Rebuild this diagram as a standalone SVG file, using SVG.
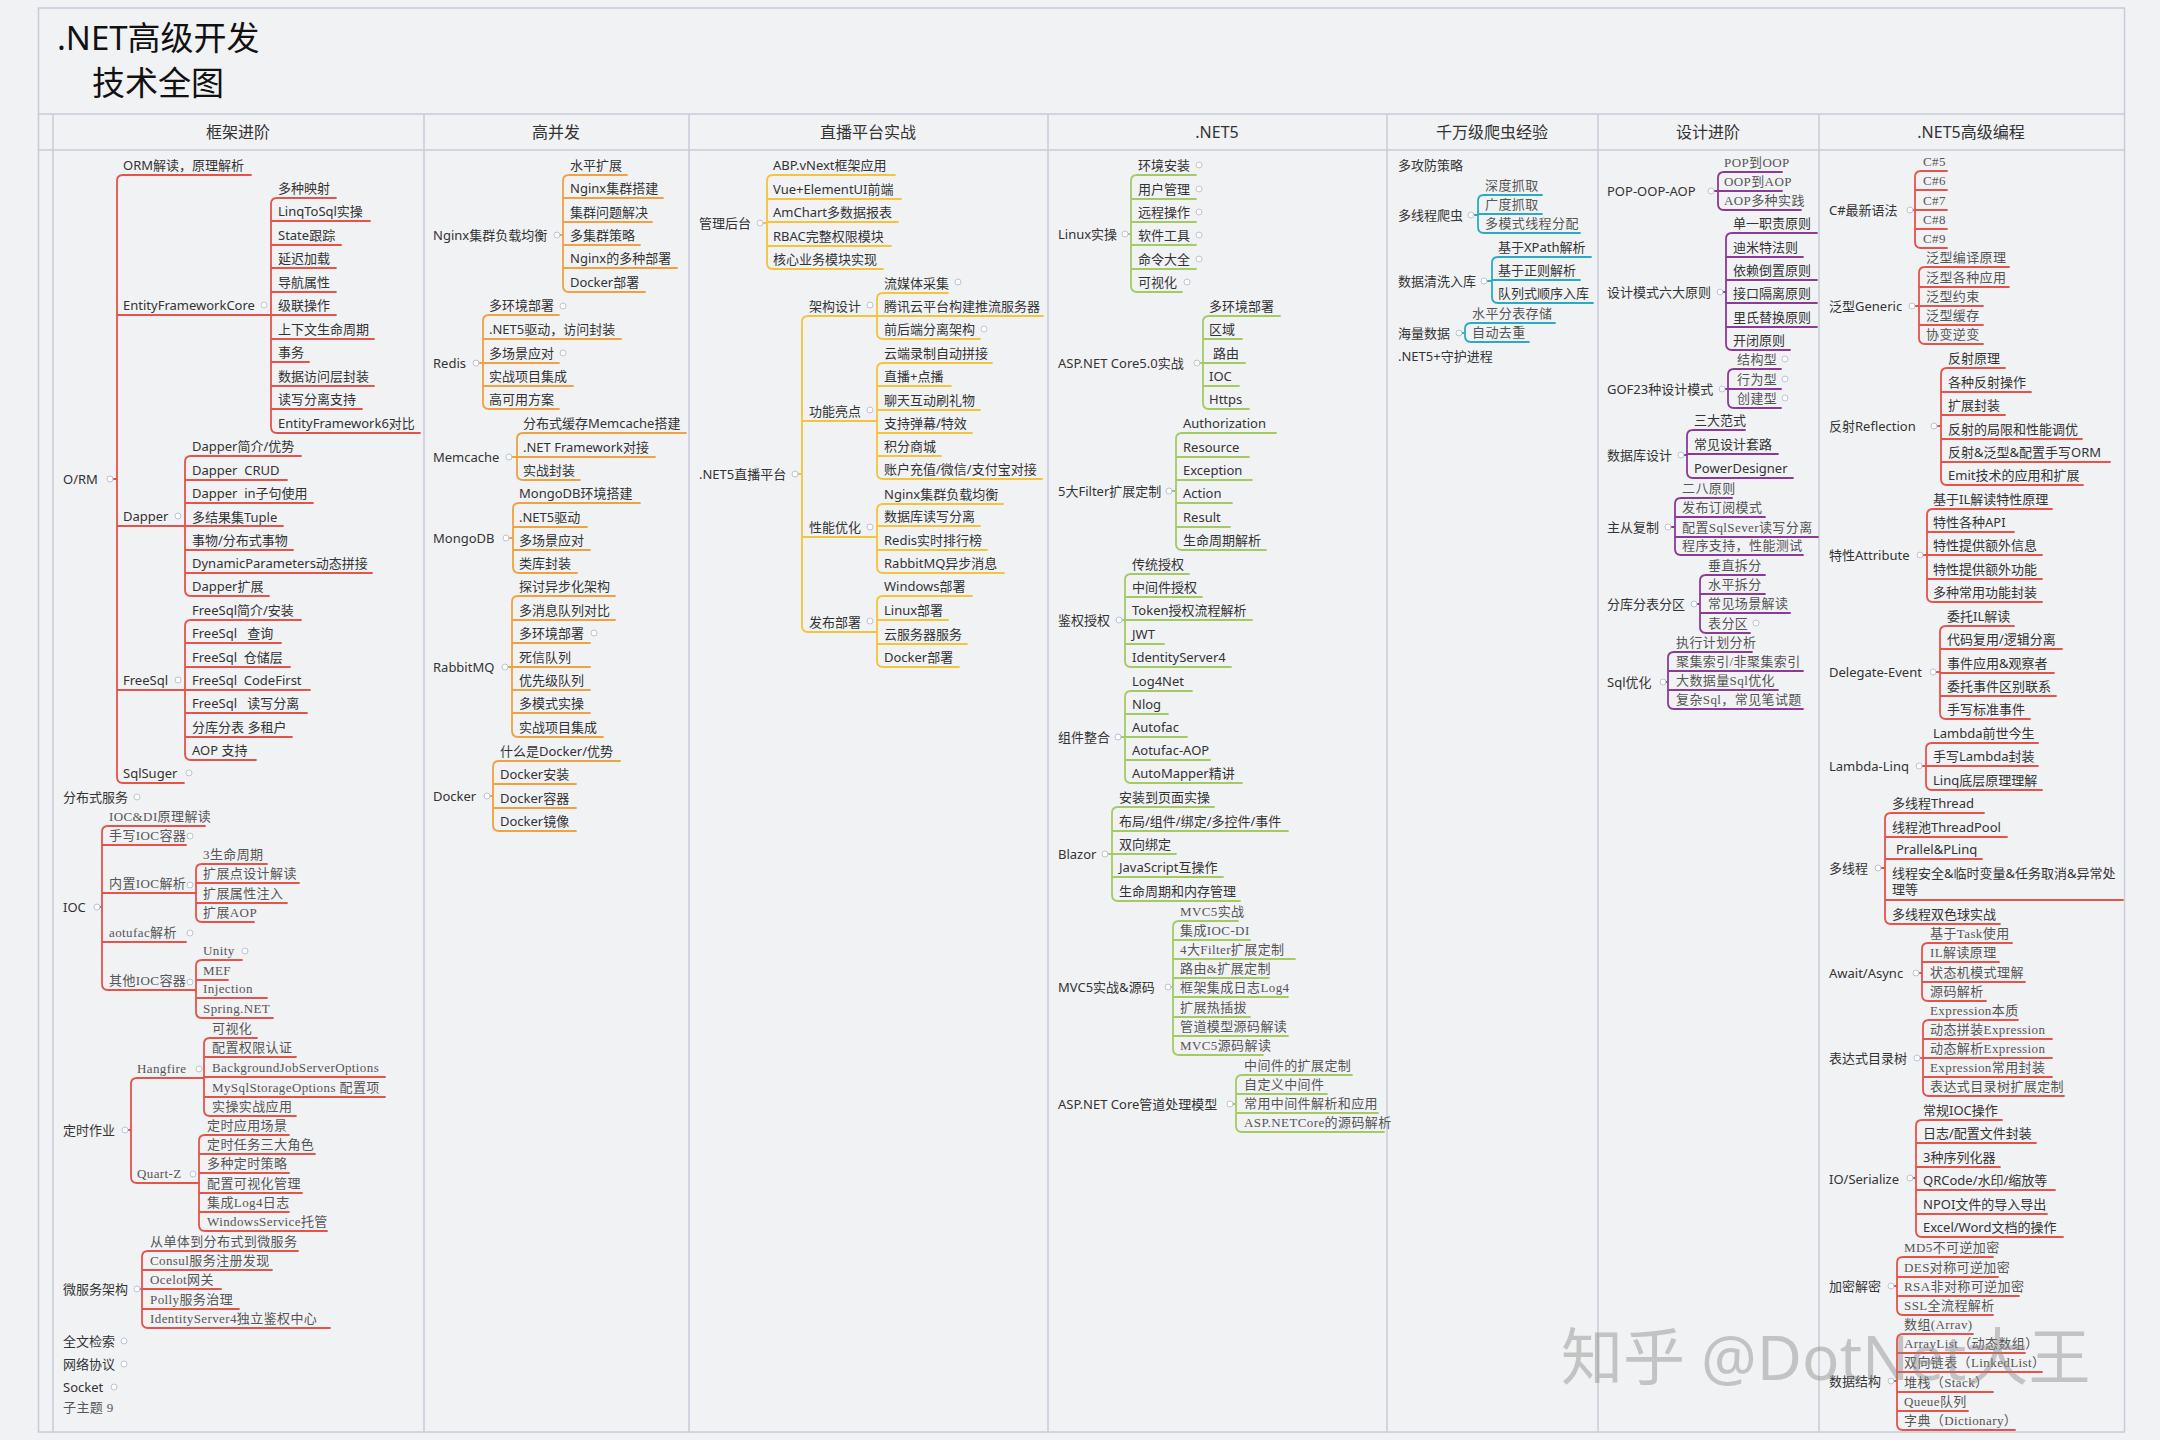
<svg xmlns="http://www.w3.org/2000/svg" width="2160" height="1440" viewBox="0 0 2160 1440">
<style>
text{font-family:"Noto Sans","Noto Sans CJK SC",sans-serif;font-size:13px;fill:#333}
text.s{font-family:"Liberation Serif","Noto Sans CJK SC",serif;fill:#555;letter-spacing:0.4px}
text.h{font-size:16px;text-anchor:middle;fill:#333}
text.ttl{font-size:33px;fill:#111}
text.wm{font-size:62px;fill:#8c8c8c;opacity:.45}
.fr{fill:none;stroke:#c8ccd8;stroke-width:1.5}
path{fill:none;stroke-width:1.8;stroke-linecap:round}
.l1 path,.l7 path{stroke:#e5534b}
.l2 path{stroke:#f2a13f}
.l3 path{stroke:#f4c43c}
.l4 path{stroke:#a3cb62}
.l5 path{stroke:#2aabc4}
.l6 path{stroke:#8b3a98}
circle{fill:#fff;stroke:#bcc4d4;stroke-width:1}
</style>
<rect width="2160" height="1440" fill="#f1f2f4"/>
<rect x="38.5" y="8" width="2086" height="1424" fill="#fff" class="fr"/>
<g id="frame" class="fr">
<path d="M38.5,114H2124.5M38.5,150H2124.5M53,114V1432M424,114V1432M689,114V1432M1048,114V1432M1387,114V1432M1598,114V1432M1819,114V1432" style="stroke:#c8ccd8;stroke-width:1.5"/>
</g>
<g id="title">
<text class="ttl" x="57" y="50">.NET高级开发</text>
<text class="ttl" x="92" y="95">技术全图</text>
</g>
<g id="headers">
<text class="h" x="238" y="138">框架进阶</text>
<text class="h" x="556" y="138">高并发</text>
<text class="h" x="868" y="138">直播平台实战</text>
<text class="h" x="1217" y="138">.NET5</text>
<text class="h" x="1492" y="138">千万级爬虫经验</text>
<text class="h" x="1708" y="138">设计进阶</text>
<text class="h" x="1971" y="138">.NET5高级编程</text>
</g>

<g id="connectors">
<g class="l1">
<path d="M113,479H117M123,175Q117,175 117,181V777Q117,783 123,783M123,175H251M117,315H271M117,526H185M117,690H185M123,783H184"/>
<path d="M277,198Q271,198 271,204V427Q271,433 277,433M277,198H336M271,221H370M271,245H341M271,268H336M271,292H336M271,315H336M271,339H374M271,362H309M271,386H374M271,409H362M277,433H420"/>
<path d="M191,456Q185,456 185,462V590Q185,596 191,596M191,456H301M185,480H287M185,503H313M185,526H283M185,550H293M185,573H372M191,596H269"/>
<path d="M191,620Q185,620 185,626V754Q185,760 191,760M191,620H301M185,643H281M185,667H290M185,690H310M185,713H307M185,737H292M191,760H256"/>
<path d="M100,907H102M108,826Q102,826 102,832V984Q102,990 108,990M108,826H205M102,845H186M102,893H196M102,942H186M108,990H196"/>
<path d="M202,864Q196,864 196,870V916Q196,922 202,922M202,864H267M196,883H299M196,903H287M202,922H254"/>
<path d="M202,960Q196,960 196,966V1012Q196,1018 202,1018M202,960H242M196,980H228M196,998H267M202,1018H273"/>
<path d="M128,1130H131M137,1078Q131,1078 131,1084V1177Q131,1183 137,1183M137,1078H204M137,1183H199"/>
<path d="M210,1038Q204,1038 204,1044V1110Q204,1116 210,1116M210,1038H257M204,1057H296M204,1077H385M204,1097H385M210,1116H296"/>
<path d="M205,1135Q199,1135 199,1141V1225Q199,1231 205,1231M205,1135H289M199,1154H315M199,1173H289M199,1193H302M199,1212H289M205,1231H327"/>
<path d="M140,1289H142M148,1251Q142,1251 142,1257V1322Q142,1328 148,1328M148,1251H298M142,1270H272M142,1289H221M142,1309H239M148,1328H330"/>
</g>
<g class="l2">
<path d="M560,235H563M569,175Q563,175 563,181V286Q563,292 569,292M569,175H627M563,198H663M563,222H652M563,245H640M563,268H677M569,292H645"/>
<path d="M479,363H483M489,315Q483,315 483,321V403Q483,409 489,409M489,315H559M483,339H621M483,363H559M483,386H573M489,409H559"/>
<path d="M512,457H517M523,433Q517,433 517,439V474Q517,480 523,480M523,433H686M517,457H655M523,480H580"/>
<path d="M509,538H513M519,503Q513,503 513,509V567Q513,573 519,573M519,503H640M513,527H587M513,550H590M519,573H577"/>
<path d="M508,667H512M518,596Q512,596 512,602V731Q512,737 518,737M518,596H615M512,620H615M512,643H590M512,667H590M512,690H590M512,713H590M518,737H603"/>
<path d="M490,796H493M499,761Q493,761 493,767V825Q493,831 499,831M499,761H620M493,784H576M493,808H576M499,831H576"/>
</g>
<g class="l3">
<path d="M763,223H767M773,175Q767,175 767,181V263Q767,269 773,269M773,175H895M767,199H901M767,222H898M767,246H891M773,269H883"/>
<path d="M798,474H802M808,316Q802,316 802,322V626Q802,632 808,632M808,316H877M802,421H877M802,537H877M808,632H877"/>
<path d="M883,293Q877,293 877,299V333Q877,339 883,339M883,293H948M877,316H1043M883,339H980"/>
<path d="M883,363Q877,363 877,369V473Q877,479 883,479M883,363H992M877,386H951M877,410H980M877,433H972M877,456H941M883,479H1042"/>
<path d="M883,504Q877,504 877,510V567Q877,573 883,573M883,504H1003M877,526H980M877,550H987M883,573H1004"/>
<path d="M883,596Q877,596 877,602V661Q877,667 883,667M883,596H972M877,620H948M877,644H967M883,667H959"/>
</g>
<g class="l4">
<path d="M1128,234H1131M1137,175Q1131,175 1131,181V286Q1131,292 1137,292M1137,175H1196M1131,199H1196M1131,222H1196M1131,245H1196M1131,269H1196M1137,292H1182"/>
<path d="M1200,363H1203M1209,316Q1203,316 1203,322V403Q1203,409 1209,409M1209,316H1280M1203,339H1242M1203,363H1245M1203,386H1239M1209,409H1249"/>
<path d="M1172,491H1176M1182,433Q1176,433 1176,439V544Q1176,550 1182,550M1182,433H1276M1176,457H1249M1176,480H1252M1176,503H1232M1176,527H1230M1182,550H1266"/>
<path d="M1122,620H1125M1131,574Q1125,574 1125,580V661Q1125,667 1131,667M1131,574H1189M1125,597H1202M1125,620H1252M1125,644H1164M1131,667H1231"/>
<path d="M1121,737H1125M1131,691Q1125,691 1125,697V777Q1125,783 1131,783M1131,691H1192M1125,714H1168M1125,737H1187M1125,760H1210M1131,783H1242"/>
<path d="M1108,854H1112M1118,807Q1112,807 1112,813V895Q1112,901 1118,901M1118,807H1214M1112,831H1288M1112,854H1176M1112,877H1223M1118,901H1240"/>
<path d="M1171,987H1173M1179,921Q1173,921 1173,927V1049Q1173,1055 1179,1055M1179,921H1238M1173,940H1250M1173,959H1295M1173,978H1269M1173,997H1288M1173,1017H1250M1173,1036H1288M1179,1055H1263"/>
<path d="M1233,1104H1236M1242,1075Q1236,1075 1236,1081V1126Q1236,1132 1242,1132M1242,1075H1352M1236,1094H1327M1236,1113H1378M1242,1132H1384"/>
</g>
<g class="l5">
<path d="M1474,215H1478M1484,195Q1478,195 1478,201V227Q1478,233 1484,233M1484,195H1542M1478,214H1542M1484,233H1580"/>
<path d="M1487,281H1492M1498,257Q1492,257 1492,263V297Q1492,303 1498,303M1498,257H1591M1492,280H1580M1498,303H1593"/>
<path d="M1462,333H1465M1471,323Q1465,323 1465,329V336Q1465,342 1471,342M1471,323H1555M1471,342H1529"/>
</g>
<g class="l6">
<path d="M1714,191H1718M1724,172Q1718,172 1718,178V204Q1718,210 1724,210M1724,172H1782M1718,191H1782M1724,210H1801"/>
<path d="M1723,292H1726M1732,233Q1726,233 1726,239V344Q1726,350 1732,350M1732,233H1817M1726,257H1803M1726,280H1817M1726,303H1817M1726,327H1817M1732,350H1790"/>
<path d="M1725,389H1728M1734,369Q1728,369 1728,375V402Q1728,408 1734,408M1734,369H1781M1728,389H1781M1734,408H1781"/>
<path d="M1684,455H1687M1693,430Q1687,430 1687,436V472Q1687,478 1693,478M1693,430H1745M1687,454H1778M1693,478H1793"/>
<path d="M1671,527H1675M1681,498Q1675,498 1675,504V549Q1675,555 1681,555M1681,498H1732M1675,517H1765M1675,537H1818M1681,555H1803"/>
<path d="M1697,604H1700M1706,575Q1700,575 1700,581V627Q1700,633 1706,633M1706,575H1765M1700,594H1765M1700,613H1790M1706,633H1750"/>
<path d="M1666,682H1668M1674,652Q1668,652 1668,658V703Q1668,709 1674,709M1674,652H1752M1668,671H1803M1668,690H1778M1674,709H1803"/>
</g>
<g class="l7">
<path d="M1913,210H1915M1921,171Q1915,171 1915,177V242Q1915,248 1921,248M1921,171H1947M1915,190H1947M1915,210H1947M1915,229H1947M1921,248H1947"/>
<path d="M1915,306H1919M1925,267Q1919,267 1919,273V338Q1919,344 1925,344M1925,267H2009M1919,287H2009M1919,306H1983M1919,325H1983M1925,344H1983"/>
<path d="M1937,426H1941M1947,368Q1941,368 1941,374V479Q1941,485 1947,485M1947,368H2005M1941,392H2031M1941,415H2005M1941,439H2082M1941,462H2110M1947,485H2083"/>
<path d="M1923,555H1927M1933,509Q1927,509 1927,515V596Q1927,602 1933,602M1933,509H2052M1927,532H2014M1927,555H2042M1927,579H2042M1933,602H2042"/>
<path d="M1936,672H1940M1946,626Q1940,626 1940,632V713Q1940,719 1946,719M1946,626H2014M1940,649H2062M1940,673H2054M1940,696H2056M1946,719H2030"/>
<path d="M1922,766H1926M1932,743Q1926,743 1926,749V784Q1926,790 1932,790M1932,743H2038M1926,766H2038M1932,790H2042"/>
<path d="M1881,868H1885M1891,813Q1885,813 1885,819V918Q1885,924 1891,924M1891,813H1984M1885,837H2007M1885,859H1982M1885,900H2123M1891,924H2000"/>
<path d="M1919,973H1922M1928,943Q1922,943 1922,949V995Q1922,1001 1928,1001M1928,943H2012M1922,962H1999M1922,982H2025M1928,1001H1986"/>
<path d="M1920,1058H1923M1929,1020Q1923,1020 1923,1026V1090Q1923,1096 1929,1096M1929,1020H2018M1923,1039H2052M1923,1058H2052M1923,1077H2052M1929,1096H2064"/>
<path d="M1913,1178H1916M1922,1120Q1916,1120 1916,1126V1231Q1916,1237 1922,1237M1922,1120H2002M1916,1143H2036M1916,1167H2000M1916,1190H2055M1916,1214H2047M1922,1237H2063"/>
<path d="M1894,1286H1897M1903,1257Q1897,1257 1897,1263V1309Q1897,1315 1903,1315M1903,1257H1993M1897,1277H1998M1897,1296H2019M1903,1315H1993"/>
<path d="M1894,1381H1897M1903,1334Q1897,1334 1897,1340V1424Q1897,1430 1903,1430M1903,1334H1973M1897,1353H2025M1897,1372H2042M1897,1392H1993M1897,1411H1968M1903,1430H2015"/>
</g>
<g id="markers">
<circle cx="110" cy="479" r="3"/><circle cx="264" cy="305" r="3"/><circle cx="178" cy="516" r="3"/><circle cx="178" cy="680" r="3"/><circle cx="189" cy="773" r="3"/><circle cx="137" cy="797" r="3"/><circle cx="97" cy="907" r="3"/><circle cx="190" cy="836" r="3"/><circle cx="190" cy="885" r="3"/><circle cx="190" cy="933" r="3"/><circle cx="190" cy="982" r="3"/><circle cx="245" cy="951" r="3"/><circle cx="125" cy="1130" r="3"/><circle cx="199" cy="1069" r="3"/><circle cx="193" cy="1174" r="3"/><circle cx="137" cy="1289" r="3"/><circle cx="124" cy="1341" r="3"/><circle cx="124" cy="1364" r="3"/><circle cx="114" cy="1387" r="3"/>
<circle cx="557" cy="235" r="3"/><circle cx="476" cy="363" r="3"/><circle cx="563" cy="306" r="3"/><circle cx="563" cy="353" r="3"/><circle cx="509" cy="457" r="3"/><circle cx="506" cy="538" r="3"/><circle cx="505" cy="667" r="3"/><circle cx="594" cy="633" r="3"/><circle cx="487" cy="796" r="3"/>
<circle cx="760" cy="223" r="3"/><circle cx="795" cy="474" r="3"/><circle cx="870" cy="305" r="3"/><circle cx="870" cy="410" r="3"/><circle cx="870" cy="527" r="3"/><circle cx="870" cy="621" r="3"/><circle cx="958" cy="282" r="3"/><circle cx="984" cy="329" r="3"/>
<circle cx="1125" cy="234" r="3"/><circle cx="1199" cy="165" r="3"/><circle cx="1199" cy="189" r="3"/><circle cx="1199" cy="212" r="3"/><circle cx="1199" cy="235" r="3"/><circle cx="1199" cy="259" r="3"/><circle cx="1187" cy="282" r="3"/><circle cx="1197" cy="363" r="3"/><circle cx="1169" cy="491" r="3"/><circle cx="1119" cy="620" r="3"/><circle cx="1118" cy="737" r="3"/><circle cx="1105" cy="854" r="3"/><circle cx="1168" cy="987" r="3"/><circle cx="1230" cy="1104" r="3"/>
<circle cx="1471" cy="215" r="3"/><circle cx="1484" cy="281" r="3"/><circle cx="1459" cy="333" r="3"/>
<circle cx="1711" cy="191" r="3"/><circle cx="1720" cy="292" r="3"/><circle cx="1722" cy="389" r="3"/><circle cx="1785" cy="359" r="3"/><circle cx="1785" cy="379" r="3"/><circle cx="1785" cy="398" r="3"/><circle cx="1681" cy="455" r="3"/><circle cx="1668" cy="527" r="3"/><circle cx="1694" cy="604" r="3"/><circle cx="1756" cy="623" r="3"/><circle cx="1663" cy="682" r="3"/>
<circle cx="1910" cy="210" r="3"/><circle cx="1912" cy="306" r="3"/><circle cx="1934" cy="426" r="3"/><circle cx="1920" cy="555" r="3"/><circle cx="1933" cy="672" r="3"/><circle cx="1919" cy="766" r="3"/><circle cx="1878" cy="868" r="3"/><circle cx="1916" cy="973" r="3"/><circle cx="1917" cy="1058" r="3"/><circle cx="1910" cy="1178" r="3"/><circle cx="1891" cy="1286" r="3"/><circle cx="1891" cy="1381" r="3"/>
</g>
</g>

<g id="col1">
<g id="n-orm"><text x="63" y="484">O/RM</text>
<text x="123" y="170">ORM解读，原理解析</text></g>
<g id="n-efcore"><text x="123" y="310">EntityFrameworkCore</text>
<text x="278" y="193">多种映射</text><text x="278" y="216">LinqToSql实操</text><text x="278" y="240">State跟踪</text><text x="278" y="263">延迟加载</text><text x="278" y="287">导航属性</text><text x="278" y="310">级联操作</text><text x="278" y="334">上下文生命周期</text><text x="278" y="357">事务</text><text x="278" y="381">数据访问层封装</text><text x="278" y="404">读写分离支持</text><text x="278" y="428">EntityFramework6对比</text></g>
<g id="n-dapper"><text x="123" y="521">Dapper</text>
<text x="192" y="451">Dapper简介/优势</text><text x="192" y="475">Dapper&#160; CRUD</text><text x="192" y="498">Dapper&#160; in子句使用</text><text x="192" y="522">多结果集Tuple</text><text x="192" y="545">事物/分布式事物</text><text x="192" y="568">DynamicParameters动态拼接</text><text x="192" y="591">Dapper扩展</text></g>
<g id="n-freesql"><text x="123" y="685">FreeSql</text>
<text x="192" y="615">FreeSql简介/安装</text><text x="192" y="638">FreeSql&#160;&#160; 查询</text><text x="192" y="662">FreeSql&#160; 仓储层</text><text x="192" y="685">FreeSql&#160; CodeFirst</text><text x="192" y="708">FreeSql&#160;&#160; 读写分离</text><text x="192" y="732">分库分表 多租户</text><text x="192" y="755">AOP 支持</text></g>
<g id="n-sqlsuger"><text x="123" y="778">SqlSuger</text></g>
<g id="n-dist"><text x="63" y="802">分布式服务</text></g>
<g id="n-ioc"><text x="63" y="912">IOC</text>
<text class="s" x="109" y="821">IOC&amp;DI原理解读</text><text class="s" x="109" y="840">手写IOC容器</text><text class="s" x="109" y="888">内置IOC解析</text><text class="s" x="109" y="937">aotufac解析</text><text class="s" x="109" y="985">其他IOC容器</text>
<text class="s" x="203" y="859">3生命周期</text><text class="s" x="203" y="878">扩展点设计解读</text><text class="s" x="203" y="898">扩展属性注入</text><text class="s" x="203" y="917">扩展AOP</text>
<text class="s" x="203" y="955">Unity</text><text class="s" x="203" y="975">MEF</text><text class="s" x="203" y="993">Injection</text><text class="s" x="203" y="1013">Spring.NET</text></g>
<g id="n-timer"><text x="63" y="1135">定时作业</text>
<text class="s" x="137" y="1073">Hangfire</text><text class="s" x="137" y="1178">Quart-Z</text>
<text class="s" x="212" y="1033">可视化</text><text class="s" x="212" y="1052">配置权限认证</text><text class="s" x="212" y="1072">BackgroundJobServerOptions</text><text class="s" x="212" y="1092">MySqlStorageOptions 配置项</text><text class="s" x="212" y="1111">实操实战应用</text>
<text class="s" x="207" y="1130">定时应用场景</text><text class="s" x="207" y="1149">定时任务三大角色</text><text class="s" x="207" y="1168">多种定时策略</text><text class="s" x="207" y="1188">配置可视化管理</text><text class="s" x="207" y="1207">集成Log4日志</text><text class="s" x="207" y="1226">WindowsService托管</text></g>
<g id="n-micro"><text x="63" y="1294">微服务架构</text>
<text class="s" x="150" y="1246">从单体到分布式到微服务</text><text class="s" x="150" y="1265">Consul服务注册发现</text><text class="s" x="150" y="1284">Ocelot网关</text><text class="s" x="150" y="1304">Polly服务治理</text><text class="s" x="150" y="1323">IdentityServer4独立鉴权中心</text></g>
<g id="n-misc1"><text x="63" y="1346">全文检索</text><text x="63" y="1369">网络协议</text><text x="63" y="1392">Socket</text><text class="s" x="63" y="1412">子主题 9</text></g>
</g>

<g id="col2">
<g id="n-nginx"><text x="433" y="240">Nginx集群负载均衡</text>
<text x="570" y="170">水平扩展</text><text x="570" y="193">Nginx集群搭建</text><text x="570" y="217">集群问题解决</text><text x="570" y="240">多集群策略</text><text x="570" y="263">Nginx的多种部署</text><text x="570" y="287">Docker部署</text></g>
<g id="n-redis"><text x="433" y="368">Redis</text>
<text x="489" y="310">多环境部署</text><text x="489" y="334">.NET5驱动，访问封装</text><text x="489" y="358">多场景应对</text><text x="489" y="381">实战项目集成</text><text x="489" y="404">高可用方案</text></g>
<g id="n-memcache"><text x="433" y="462">Memcache</text>
<text x="523" y="428">分布式缓存Memcache搭建</text><text x="523" y="452">.NET Framework对接</text><text x="523" y="475">实战封装</text></g>
<g id="n-mongo"><text x="433" y="543">MongoDB</text>
<text x="519" y="498">MongoDB环境搭建</text><text x="519" y="522">.NET5驱动</text><text x="519" y="545">多场景应对</text><text x="519" y="568">类库封装</text></g>
<g id="n-rabbit"><text x="433" y="672">RabbitMQ</text>
<text x="519" y="591">探讨异步化架构</text><text x="519" y="615">多消息队列对比</text><text x="519" y="638">多环境部署</text><text x="519" y="662">死信队列</text><text x="519" y="685">优先级队列</text><text x="519" y="708">多模式实操</text><text x="519" y="732">实战项目集成</text></g>
<g id="n-docker"><text x="433" y="801">Docker</text>
<text x="500" y="756">什么是Docker/优势</text><text x="500" y="779">Docker安装</text><text x="500" y="803">Docker容器</text><text x="500" y="826">Docker镜像</text></g>
</g>

<g id="col3">
<g id="n-admin"><text x="699" y="228">管理后台</text>
<text x="773" y="170">ABP.vNext框架应用</text><text x="773" y="194">Vue+ElementUI前端</text><text x="773" y="217">AmChart多数据报表</text><text x="773" y="241">RBAC完整权限模块</text><text x="773" y="264">核心业务模块实现</text></g>
<g id="n-live"><text x="699" y="479">.NET5直播平台</text>
<text x="809" y="311">架构设计</text><text x="809" y="416">功能亮点</text><text x="809" y="532">性能优化</text><text x="809" y="627">发布部署</text>
<text x="884" y="288">流媒体采集</text><text x="884" y="311">腾讯云平台构建推流服务器</text><text x="884" y="334">前后端分离架构</text>
<text x="884" y="358">云端录制自动拼接</text><text x="884" y="381">直播+点播</text><text x="884" y="405">聊天互动刷礼物</text><text x="884" y="428">支持弹幕/特效</text><text x="884" y="451">积分商城</text><text x="884" y="474">账户充值/微信/支付宝对接</text>
<text x="884" y="499">Nginx集群负载均衡</text><text x="884" y="521">数据库读写分离</text><text x="884" y="545">Redis实时排行榜</text><text x="884" y="568">RabbitMQ异步消息</text>
<text x="884" y="591">Windows部署</text><text x="884" y="615">Linux部署</text><text x="884" y="639">云服务器服务</text><text x="884" y="662">Docker部署</text></g>
</g>

<g id="col4">
<g id="n-linux"><text x="1058" y="239">Linux实操</text>
<text x="1138" y="170">环境安装</text><text x="1138" y="194">用户管理</text><text x="1138" y="217">远程操作</text><text x="1138" y="240">软件工具</text><text x="1138" y="264">命令大全</text><text x="1138" y="287">可视化</text></g>
<g id="n-aspcore"><text x="1058" y="368">ASP.NET Core5.0实战</text>
<text x="1209" y="311">多环境部署</text><text x="1209" y="334">区域</text><text x="1213" y="358">路由</text><text x="1209" y="381">IOC</text><text x="1209" y="404">Https</text></g>
<g id="n-filter"><text x="1058" y="496">5大Filter扩展定制</text>
<text x="1183" y="428">Authorization</text><text x="1183" y="452">Resource</text><text x="1183" y="475">Exception</text><text x="1183" y="498">Action</text><text x="1183" y="522">Result</text><text x="1183" y="545">生命周期解析</text></g>
<g id="n-auth"><text x="1058" y="625">鉴权授权</text>
<text x="1132" y="569">传统授权</text><text x="1132" y="592">中间件授权</text><text x="1132" y="615">Token授权流程解析</text><text x="1132" y="639">JWT</text><text x="1132" y="662">IdentityServer4</text></g>
<g id="n-comp"><text x="1058" y="742">组件整合</text>
<text x="1132" y="686">Log4Net</text><text x="1132" y="709">Nlog</text><text x="1132" y="732">Autofac</text><text x="1132" y="755">Aotufac-AOP</text><text x="1132" y="778">AutoMapper精讲</text></g>
<g id="n-blazor"><text x="1058" y="859">Blazor</text>
<text x="1119" y="802">安装到页面实操</text><text x="1119" y="826">布局/组件/绑定/多控件/事件</text><text x="1119" y="849">双向绑定</text><text x="1119" y="872">JavaScript互操作</text><text x="1119" y="896">生命周期和内存管理</text></g>
<g id="n-mvc5"><text x="1058" y="992">MVC5实战&amp;源码</text>
<text class="s" x="1180" y="916">MVC5实战</text><text class="s" x="1180" y="935">集成IOC-DI</text><text class="s" x="1180" y="954">4大Filter扩展定制</text><text class="s" x="1180" y="973">路由&amp;扩展定制</text><text class="s" x="1180" y="992">框架集成日志Log4</text><text class="s" x="1180" y="1012">扩展热插拔</text><text class="s" x="1180" y="1031">管道模型源码解读</text><text class="s" x="1180" y="1050">MVC5源码解读</text></g>
<g id="n-pipe"><text x="1058" y="1109">ASP.NET Core管道处理模型</text>
<text class="s" x="1244" y="1070">中间件的扩展定制</text><text class="s" x="1244" y="1089">自定义中间件</text><text class="s" x="1244" y="1108">常用中间件解析和应用</text><text class="s" x="1244" y="1127">ASP.NETCore的源码解析</text></g>
</g>

<g id="col5">
<g id="n-attack"><text x="1398" y="170">多攻防策略</text></g>
<g id="n-crawler"><text x="1398" y="220">多线程爬虫</text>
<text class="s" x="1485" y="190">深度抓取</text><text class="s" x="1485" y="209">广度抓取</text><text class="s" x="1485" y="228">多模式线程分配</text></g>
<g id="n-clean"><text x="1398" y="286">数据清洗入库</text>
<text x="1498" y="252">基于XPath解析</text><text x="1498" y="275">基于正则解析</text><text x="1498" y="298">队列式顺序入库</text></g>
<g id="n-mass"><text x="1398" y="338">海量数据</text>
<text class="s" x="1472" y="318">水平分表存储</text><text class="s" x="1472" y="337">自动去重</text></g>
<g id="n-daemon"><text x="1398" y="361">.NET5+守护进程</text></g>
</g>

<g id="col6">
<g id="n-pop"><text x="1607" y="196">POP-OOP-AOP</text>
<text class="s" x="1724" y="167">POP到OOP</text><text class="s" x="1724" y="186">OOP到AOP</text><text class="s" x="1724" y="205">AOP多种实践</text></g>
<g id="n-six"><text x="1607" y="297">设计模式六大原则</text>
<text x="1733" y="228">单一职责原则</text><text x="1733" y="252">迪米特法则</text><text x="1733" y="275">依赖倒置原则</text><text x="1733" y="298">接口隔离原则</text><text x="1733" y="322">里氏替换原则</text><text x="1733" y="345">开闭原则</text></g>
<g id="n-gof"><text x="1607" y="394">GOF23种设计模式</text>
<text class="s" x="1737" y="364">结构型</text><text class="s" x="1737" y="384">行为型</text><text class="s" x="1737" y="403">创建型</text></g>
<g id="n-dbd"><text x="1607" y="460">数据库设计</text>
<text x="1694" y="425">三大范式</text><text x="1694" y="449">常见设计套路</text><text x="1694" y="473">PowerDesigner</text></g>
<g id="n-repl"><text x="1607" y="532">主从复制</text>
<text class="s" x="1682" y="493">二八原则</text><text class="s" x="1682" y="512">发布订阅模式</text><text class="s" x="1682" y="532">配置SqlSever读写分离</text><text class="s" x="1682" y="550">程序支持，性能测试</text></g>
<g id="n-shard"><text x="1607" y="609">分库分表分区</text>
<text class="s" x="1708" y="570">垂直拆分</text><text class="s" x="1708" y="589">水平拆分</text><text class="s" x="1708" y="608">常见场景解读</text><text class="s" x="1708" y="628">表分区</text></g>
<g id="n-sqlopt"><text x="1607" y="687">Sql优化</text>
<text class="s" x="1676" y="647">执行计划分析</text><text class="s" x="1676" y="666">聚集索引/非聚集索引</text><text class="s" x="1676" y="685">大数据量Sql优化</text><text class="s" x="1676" y="704">复杂Sql，常见笔试题</text></g>
</g>

<g id="col7">
<g id="n-cs"><text x="1829" y="215">C#最新语法</text>
<text class="s" x="1923" y="166">C#5</text><text class="s" x="1923" y="185">C#6</text><text class="s" x="1923" y="205">C#7</text><text class="s" x="1923" y="224">C#8</text><text class="s" x="1923" y="243">C#9</text></g>
<g id="n-generic"><text x="1829" y="311">泛型Generic</text>
<text class="s" x="1926" y="262">泛型编译原理</text><text class="s" x="1926" y="282">泛型各种应用</text><text class="s" x="1926" y="301">泛型约束</text><text class="s" x="1926" y="320">泛型缓存</text><text class="s" x="1926" y="339">协变逆变</text></g>
<g id="n-reflect"><text x="1829" y="431">反射Reflection</text>
<text x="1948" y="363">反射原理</text><text x="1948" y="387">各种反射操作</text><text x="1948" y="410">扩展封装</text><text x="1948" y="434">反射的局限和性能调优</text><text x="1948" y="457">反射&amp;泛型&amp;配置手写ORM</text><text x="1948" y="480">Emit技术的应用和扩展</text></g>
<g id="n-attr"><text x="1829" y="560">特性Attribute</text>
<text x="1933" y="504">基于IL解读特性原理</text><text x="1933" y="527">特性各种API</text><text x="1933" y="550">特性提供额外信息</text><text x="1933" y="574">特性提供额外功能</text><text x="1933" y="597">多种常用功能封装</text></g>
<g id="n-deleg"><text x="1829" y="677">Delegate-Event</text>
<text x="1947" y="621">委托IL解读</text><text x="1947" y="644">代码复用/逻辑分离</text><text x="1947" y="668">事件应用&amp;观察者</text><text x="1947" y="691">委托事件区别联系</text><text x="1947" y="714">手写标准事件</text></g>
<g id="n-lambda"><text x="1829" y="771">Lambda-Linq</text>
<text x="1933" y="738">Lambda前世今生</text><text x="1933" y="761">手写Lambda封装</text><text x="1933" y="785">Linq底层原理理解</text></g>
<g id="n-thread"><text x="1829" y="873">多线程</text>
<text x="1892" y="808">多线程Thread</text><text x="1892" y="832">线程池ThreadPool</text><text x="1896" y="854">Prallel&amp;PLinq</text><text x="1892" y="878">线程安全&amp;临时变量&amp;任务取消&amp;异常处</text><text x="1892" y="894">理等</text><text x="1892" y="919">多线程双色球实战</text></g>
<g id="n-async"><text x="1829" y="978">Await/Async</text>
<text class="s" x="1930" y="938">基于Task使用</text><text class="s" x="1930" y="957">IL解读原理</text><text class="s" x="1930" y="977">状态机模式理解</text><text class="s" x="1930" y="996">源码解析</text></g>
<g id="n-expr"><text x="1829" y="1063">表达式目录树</text>
<text class="s" x="1930" y="1015">Expression本质</text><text class="s" x="1930" y="1034">动态拼装Expression</text><text class="s" x="1930" y="1053">动态解析Expression</text><text class="s" x="1930" y="1072">Expression常用封装</text><text class="s" x="1930" y="1091">表达式目录树扩展定制</text></g>
<g id="n-io"><text x="1829" y="1184">IO/Serialize</text>
<text x="1923" y="1115">常规IOC操作</text><text x="1923" y="1138">日志/配置文件封装</text><text x="1923" y="1162">3种序列化器</text><text x="1923" y="1185">QRCode/水印/缩放等</text><text x="1923" y="1209">NPOI文件的导入导出</text><text x="1923" y="1232">Excel/Word文档的操作</text></g>
<g id="n-crypto"><text x="1829" y="1291">加密解密</text>
<text class="s" x="1904" y="1252">MD5不可逆加密</text><text class="s" x="1904" y="1272">DES对称可逆加密</text><text class="s" x="1904" y="1291">RSA非对称可逆加密</text><text class="s" x="1904" y="1310">SSL全流程解析</text></g>
<g id="n-ds"><text x="1829" y="1386">数据结构</text>
<text class="s" x="1904" y="1329">数组(Arrav)</text><text class="s" x="1904" y="1348">ArrayList（动态数组）</text><text class="s" x="1904" y="1367">双向链表（LinkedList）</text><text class="s" x="1904" y="1387">堆栈（Stack）</text><text class="s" x="1904" y="1406">Queue队列</text><text class="s" x="1904" y="1425">字典（Dictionary）</text></g>
</g>

<g id="watermark"><text class="wm" x="1561" y="1380">知乎 @DotNet大王</text></g>
</svg>
